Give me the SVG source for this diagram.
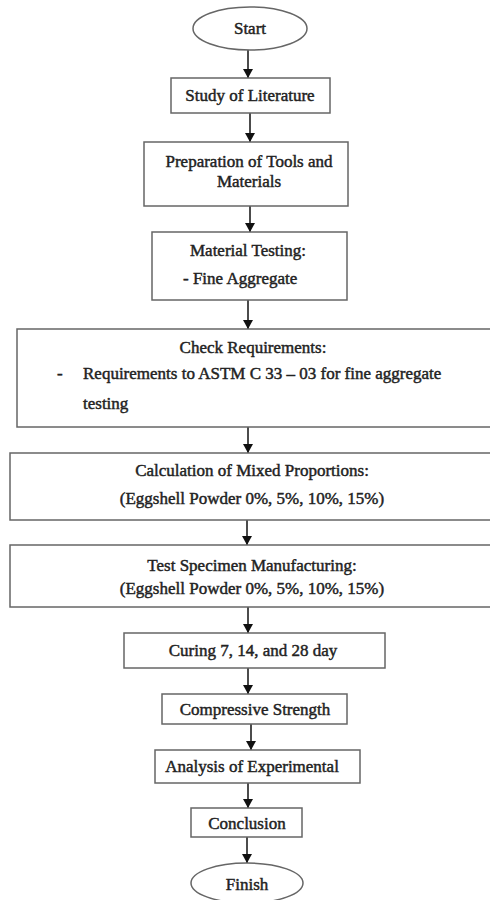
<svg xmlns="http://www.w3.org/2000/svg" width="490" height="900" viewBox="0 0 490 900">
<style>
.box{fill:#fff;stroke:#666;stroke-width:1.5}
.t{font-family:"Liberation Serif","Times New Roman",serif;font-size:17px;font-weight:normal;fill:#222;stroke:#222;stroke-width:0.45;text-anchor:middle}
.l{text-anchor:start}
.c{stroke:#111;stroke-width:1.5;fill:none;marker-end:url(#ah)}
</style>
<defs>
<marker id="ah" markerUnits="userSpaceOnUse" markerWidth="9" markerHeight="10" refX="9" refY="5" orient="auto">
<path d="M0,0 L9,5 L0,10 z" fill="#111"/>
</marker>
</defs>
<rect width="490" height="900" fill="#fff"/>
<g id="connectors">
<line class="c" x1="248" y1="50" x2="248" y2="78"/>
<line class="c" x1="250" y1="113" x2="250" y2="142"/>
<line class="c" x1="250" y1="206" x2="250" y2="232"/>
<line class="c" x1="248" y1="300" x2="248" y2="329"/>
<line class="c" x1="248" y1="427" x2="248" y2="453"/>
<line class="c" x1="247" y1="520" x2="247" y2="545"/>
<line class="c" x1="248" y1="607" x2="248" y2="633"/>
<line class="c" x1="248" y1="668" x2="248" y2="694"/>
<line class="c" x1="251" y1="724" x2="251" y2="750"/>
<line class="c" x1="248" y1="783" x2="248" y2="808"/>
<line class="c" x1="247" y1="837" x2="247" y2="863"/>
</g>
<g id="start">
<ellipse class="box" cx="250" cy="28.5" rx="57" ry="21.5"/>
<text class="t" x="250" y="34">Start</text>
</g>
<g id="study">
<rect class="box" x="171" y="78" width="159" height="35"/>
<text class="t" x="250" y="101">Study of Literature</text>
</g>
<g id="prep">
<rect class="box" x="144" y="142" width="204" height="64"/>
<text class="t" x="249" y="167">Preparation of Tools and</text>
<text class="t" x="249" y="187">Materials</text>
</g>
<g id="material">
<rect class="box" x="152" y="232" width="195" height="68"/>
<text class="t" x="248" y="256">Material Testing:</text>
<text class="t l" x="183" y="284">- Fine Aggregate</text>
</g>
<g id="check">
<rect class="box" x="17" y="329" width="480" height="98"/>
<text class="t" x="253" y="353">Check Requirements:</text>
<text class="t l" x="57" y="379">-</text>
<text class="t l" x="83" y="379">Requirements to ASTM C 33 – 03 for fine aggregate</text>
<text class="t l" x="83" y="409">testing</text>
</g>
<g id="calc">
<rect class="box" x="10" y="453" width="490" height="67"/>
<text class="t" x="252" y="476">Calculation of Mixed Proportions:</text>
<text class="t" x="252" y="504">(Eggshell Powder 0%, 5%, 10%, 15%)</text>
</g>
<g id="specimen">
<rect class="box" x="10" y="545" width="490" height="62"/>
<text class="t" x="252" y="571">Test Specimen Manufacturing:</text>
<text class="t" x="252" y="594">(Eggshell Powder 0%, 5%, 10%, 15%)</text>
</g>
<g id="curing">
<rect class="box" x="124" y="633" width="261" height="35"/>
<text class="t" x="253" y="656">Curing 7, 14, and 28 day</text>
</g>
<g id="compressive">
<rect class="box" x="162" y="694" width="185" height="30"/>
<text class="t" x="255" y="715">Compressive Strength</text>
</g>
<g id="analysis">
<rect class="box" x="155" y="750" width="205" height="33"/>
<text class="t" x="252" y="772">Analysis of Experimental</text>
</g>
<g id="conclusion">
<rect class="box" x="191" y="808" width="111" height="29"/>
<text class="t" x="247" y="829">Conclusion</text>
</g>
<g id="finish">
<ellipse class="box" cx="247" cy="883" rx="56" ry="20"/>
<text class="t" x="247" y="890">Finish</text>
</g>
</svg>
